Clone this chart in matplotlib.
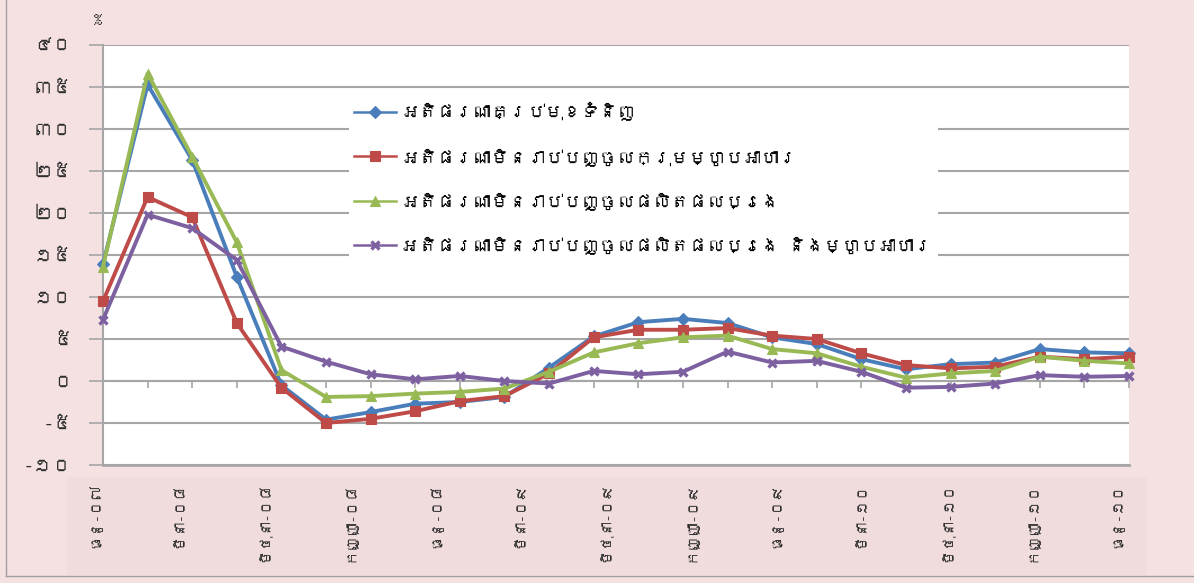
import matplotlib
matplotlib.use("Agg")
import matplotlib.pyplot as plt
import numpy as np
from matplotlib import font_manager
from matplotlib.ft2font import FT2Font
from matplotlib.lines import Line2D
from matplotlib.patches import Rectangle

# 24 periods, Dec-07 .. Dec-10 (axis shows 13 quarterly labels)
period_index = list(range(24))

all_items = [13.9, 35.3, 26.3, 12.4, -0.5, -4.6, -3.7, -2.7, -2.5, -1.9, 1.6, 5.3,
             7.0, 7.4, 6.9, 5.2, 4.4, 2.6, 1.4, 2.0, 2.2, 3.8, 3.4, 3.3]
ex_food = [9.5, 21.9, 19.5, 6.9, -0.8, -5.0, -4.5, -3.6, -2.4, -1.8, 0.9, 5.2,
           6.1, 6.1, 6.3, 5.4, 5.0, 3.3, 1.9, 1.5, 1.7, 2.9, 2.6, 2.9]
ex_oil = [13.6, 36.6, 26.7, 16.5, 1.3, -1.9, -1.8, -1.5, -1.3, -0.9, 1.1, 3.4,
          4.5, 5.2, 5.4, 3.8, 3.3, 1.7, 0.4, 0.9, 1.2, 2.9, 2.4, 2.1]
ex_oil_food = [7.3, 19.8, 18.2, 14.4, 4.1, 2.3, 0.8, 0.2, 0.6, 0.0, -0.3, 1.2,
               0.8, 1.1, 3.5, 2.2, 2.4, 1.1, -0.8, -0.7, -0.3, 0.7, 0.5, 0.6]

series_labels = [
    "អតិផរណាគ្រប់មុខទំនិញ",
    "អតិផរណាមិនរាប់បញ្ចូលក្រុមម្ហូបអាហារ",
    "អតិផរណាមិនរាប់បញ្ចូលផលិតផលប្រេង",
    "អតិផរណាមិនរាប់បញ្ចូលផលិតផលប្រេង និងម្ហូបអាហារ",
]

month_labels = ["ធ្នូ-០៧", "មីនា-០៨", "មិថុនា-០៨", "កញ្ញា-០៨", "ធ្នូ-០៨",
                "មីនា-០៩", "មិថុនា-០៩", "កញ្ញា-០៩", "ធ្នូ-០៩", "មីនា-១០",
                "មិថុនា-១០", "កញ្ញា-១០", "ធ្នូ-១០"]

y_ticks = [-10, -5, 0, 5, 10, 15, 20, 25, 30, 35, 40]
y_tick_labels = ["-១០", "-៥", "០", "៥", "១០", "១៥", "២០", "២៥", "៣០", "៣៥", "៤០"]

COLORS = ["#4A7EBB", "#BE4B48", "#98B954", "#7D60A0"]
MARKERS = ["D", "s", "^", "x"]
GRID = "#A6A6A6"
BG = "#F5E1E2"


def find_khmer_font():
    for entry in font_manager.fontManager.ttflist:
        try:
            if 0x1780 in FT2Font(entry.fname).get_charmap():
                return entry.name
        except Exception:
            continue
    return None


khmer = find_khmer_font()
families = [khmer, "DejaVu Sans"] if khmer else ["DejaVu Sans"]
plt.rcParams["font.family"] = families

W, H = 1194, 583
fig = plt.figure(figsize=(W / 100, H / 100), dpi=100)
fig.patch.set_facecolor(BG)

# outer border and the label band behind the category labels
fig.add_artist(Line2D([6 / W, 6 / W], [1 - 576 / H, 1.0], transform=fig.transFigure,
                      color="#A0A0A0", linewidth=1.0))
fig.add_artist(Line2D([6 / W, 1.0], [1 - 576 / H, 1 - 576 / H], transform=fig.transFigure,
                      color="#A0A0A0", linewidth=1.0))
fig.add_artist(Rectangle((67 / W, 1 - 575 / H), (1147 - 67) / W, (575 - 477) / H,
                         transform=fig.transFigure, facecolor="#F1DCDD",
                         edgecolor="none", zorder=0))

left, right, top, bottom = 103, 1129, 45, 465
ax = fig.add_axes([left / W, 1 - bottom / H, (right - left) / W, (bottom - top) / H])
ax.set_facecolor("white")

for values, color, marker, label in zip([all_items, ex_food, ex_oil, ex_oil_food],
                                        COLORS, MARKERS, series_labels):
    ax.plot(period_index, values, color=color, linewidth=2.8, marker=marker,
            markersize=6.5 if marker != "x" else 6, markeredgewidth=2.4 if marker == "x" else 0.8,
            markerfacecolor=color, markeredgecolor=color, label=label, zorder=3, clip_on=False)

ax.set_xlim(0, 23)
ax.set_ylim(-10, 40)

ax.set_yticks(y_ticks)
ax.set_yticklabels(y_tick_labels, fontsize=14, fontweight="bold", color="#2E2E2E")
ax.tick_params(axis="y", length=10, width=1.2, color=GRID, pad=12)
ax.yaxis.grid(True, color=GRID, linewidth=1.5)
ax.set_axisbelow(True)

# horizontal axis sits on zero with small tick marks at each period
ax.spines["bottom"].set_position(("data", 0))
ax.spines["bottom"].set_color(GRID)
ax.spines["bottom"].set_linewidth(1.5)
ax.spines["left"].set_color(GRID)
ax.spines["left"].set_linewidth(1.5)
ax.spines["top"].set_visible(False)
ax.spines["right"].set_visible(False)
ax.set_xticks(period_index)
ax.set_xticklabels([])
ax.tick_params(axis="x", length=5, width=1.2, color=GRID, direction="out")
ax.axhline(-10, color=GRID, linewidth=2.0, clip_on=False, zorder=1)

label_pos = np.linspace(-0.2, 22.75, len(month_labels))
for pos, text in zip(label_pos, month_labels):
    ax.text(pos, -0.04, text, transform=ax.get_xaxis_transform(), rotation=90,
            ha="center", va="top", fontsize=10.5, color="#2E2E2E")

fig.text(97 / W, 1 - 20 / H, "%", fontsize=13, color="#333333", ha="center", va="center")

leg = ax.legend(loc="upper left", bbox_to_anchor=((340 - left) / (right - left), (bottom - 88) / (bottom - top)),
                frameon=True, facecolor="white", edgecolor="none", framealpha=1.0,
                fontsize=13, handlelength=2.3, labelspacing=1.45, borderpad=0.3,
                handletextpad=0.3)
for handle in leg.legend_handles:
    handle.set_linewidth(1.8)

fig.savefig("out.png", dpi=100, facecolor=fig.get_facecolor())
